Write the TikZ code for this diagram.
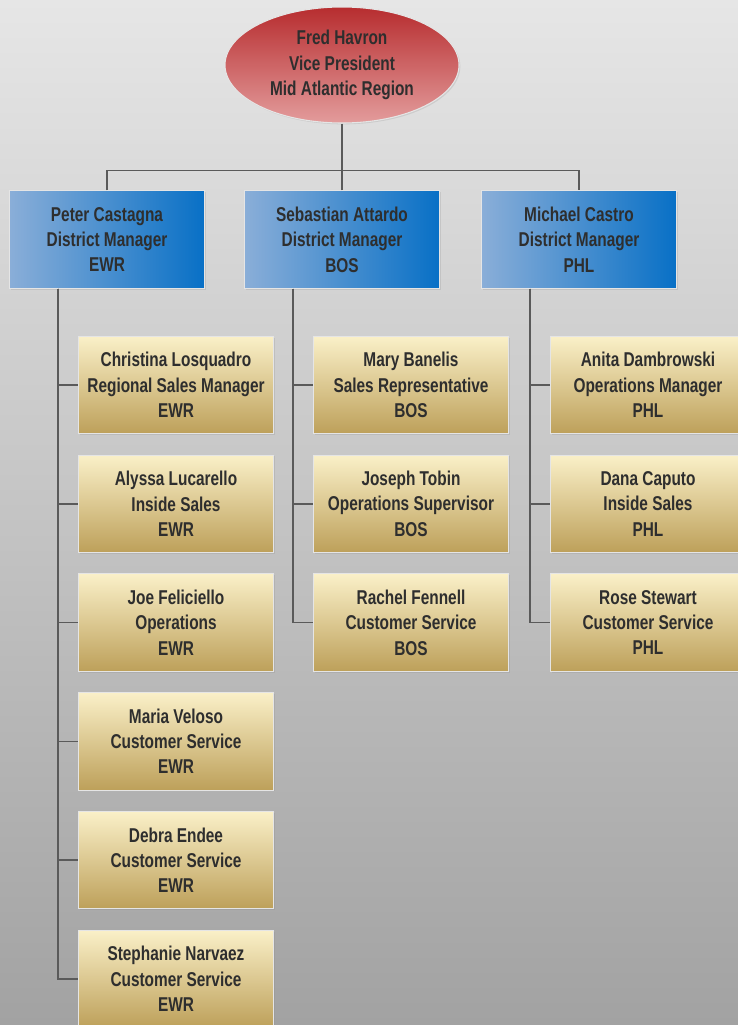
\documentclass[tikz,border=0pt]{standalone}
\usepackage{fontspec}
\newfontfamily\orgfont{Liberation Sans}[FakeStretch=0.77]
\usetikzlibrary{shapes,calc,positioning,shadows}
\definecolor{bgtop}{HTML}{E6E6E6}
\definecolor{bgbot}{HTML}{A2A2A2}
\definecolor{vptop}{HTML}{B72D2F}
\definecolor{vpbot}{HTML}{E39C9C}
\definecolor{dmleft}{HTML}{8AAED8}
\definecolor{dmright}{HTML}{0870C6}
\definecolor{sttop}{HTML}{FAF0C8}
\definecolor{stbot}{HTML}{BDA05A}
\definecolor{ink}{HTML}{2E2E2E}
\definecolor{wire}{HTML}{5A5A5A}

\begin{document}
\begin{tikzpicture}[line width=1.1pt]
    \tikzset {
      node distance=89.1pt,
      card/.style={rectangle,draw=white!80!gray,line width=0.8pt,minimum width=146.25pt,minimum height=73pt,inner sep=0pt,align=center,text=ink,font=\orgfont\bfseries\fontsize{15}{19}\selectfont,drop shadow={opacity=0.2,shadow xshift=1pt,shadow yshift=-1pt}},
      vp/.style={card,ellipse,minimum width=175.5pt,minimum height=87pt,top color=vptop,bottom color=vpbot},
      dm/.style={card,left color=dmleft,right color=dmright},
      staff/.style={card,top color=sttop,bottom color=stbot},
      link/.style={draw=wire,line width=1.1pt}
    }
    \shade [top color=bgtop, bottom color=bgbot] (0,0) rectangle (553.5pt,-768.75pt);
    \useasboundingbox (0,0) rectangle (553.5pt,-768.75pt);

    \node [vp] (fh) at (256.5pt,-48.75pt) {Fred Havron\\Vice President\\Mid Atlantic Region};
    \node [dm, below of=fh, node distance=130.9pt] (sa) {Sebastian Attardo\\District Manager\\BOS};
    \node [dm, left of=sa, node distance=176.25pt] (pc) {Peter Castagna\\District Manager\\EWR};
    \node [dm, right of=sa, node distance=177.75pt] (mc) {Michael Castro\\District Manager\\PHL};

    \node [staff, below of=pc, xshift=51.75pt, yshift=-20pt] (cl) {Christina Losquadro\\Regional Sales Manager\\EWR};
    \node [staff, below of=cl] (al) {Alyssa Lucarello\\Inside Sales\\EWR};
    \node [staff, below of=al] (jf) {Joe Feliciello\\Operations\\EWR};
    \node [staff, below of=jf] (mv) {Maria Veloso\\Customer Service\\EWR};
    \node [staff, below of=mv] (de) {Debra Endee\\Customer Service\\EWR};
    \node [staff, below of=de] (sn) {Stephanie Narvaez\\Customer Service\\EWR};

    \node [staff, below of=sa, xshift=51.75pt, yshift=-20pt] (mb) {Mary Banelis\\Sales Representative\\BOS};
    \node [staff, below of=mb] (jt) {Joseph Tobin\\Operations Supervisor\\BOS};
    \node [staff, below of=jt] (rf) {Rachel Fennell\\Customer Service\\BOS};

    \node [staff, below of=mc, xshift=51.75pt, yshift=-20pt] (ad) {Anita Dambrowski\\Operations Manager\\PHL};
    \node [staff, below of=ad] (dc) {Dana Caputo\\Inside Sales\\PHL};
    \node [staff, below of=dc] (rs) {Rose Stewart\\Customer Service\\PHL};

    \coordinate (bus) at ([yshift=15pt]sa.north);
    \draw [link] (fh.south) to (bus);
    \draw [link] (sa.north) to (bus);
    \draw [link] (pc.north) |- (bus) -| (mc.north);

    \foreach \s in {cl,al,jf,mv,de,sn}
      \draw [link] ([xshift=-36.75pt]pc.south) |- (\s.west);
    \foreach \s in {mb,jt,rf}
      \draw [link] ([xshift=-36.75pt]sa.south) |- (\s.west);
    \foreach \s in {ad,dc,rs}
      \draw [link] ([xshift=-36.75pt]mc.south) |- (\s.west);
  \end{tikzpicture}
\end{document}
